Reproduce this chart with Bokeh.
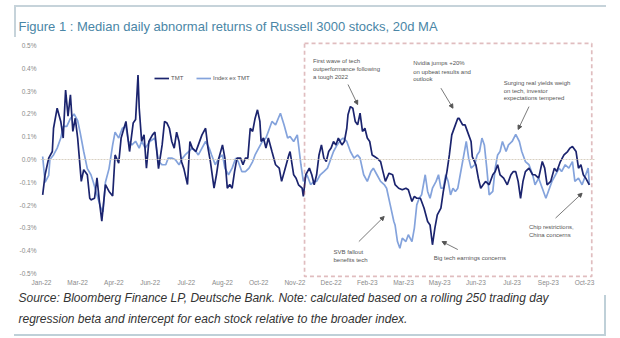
from bokeh.plotting import figure
from bokeh.models import (Range1d, FixedTicker, PrintfTickFormatter, Span, BoxAnnotation,
                          Arrow, NormalHead, Legend, LegendItem, Title, InlineStyleSheet)
from bokeh.core.properties import value
from bokeh.embed import file_html
from bokeh.resources import INLINE

# ---------------- data ----------------
title_text = "Figure 1 : Median daily abnormal returns of Russell 3000 stocks, 20d MA"
source_lines = [
    "Source: Bloomberg Finance LP, Deutsche Bank. Note: calculated based on a rolling 250 trading day",
    "regression beta and intercept for each stock relative to the broader index.",
]
tick_labels = ["Jan-22", "Mar-22", "Apr-22", "Jun-22", "Jul-22", "Aug-22", "Oct-22", "Nov-22",
               "Dec-22", "Feb-23", "Mar-23", "May-23", "Jun-23", "Jul-23", "Sep-23", "Oct-23"]
tick_days = [0, 30, 60, 90, 120, 150, 180, 210, 240, 270, 300, 330, 360, 390, 420, 450]
y_ticks = [-0.5, -0.4, -0.3, -0.2, -0.1, 0.0, 0.1, 0.2, 0.3, 0.4, 0.5]

# TMT (trading-day index, % value)
tmt_day = [1, 3, 6, 9, 10, 13, 16, 18, 20, 22,
           24, 26, 28, 30, 33, 35, 38, 40, 41, 44,
           46, 48, 50, 53, 56, 59, 61, 64, 66, 70,
           73, 76, 78, 80, 81, 83, 85, 87, 89, 92,
           94, 97, 100, 102, 104, 106, 108, 110, 112, 114,
           116, 118, 121, 123, 125, 128, 130, 133, 136, 138,
           140, 143, 145, 147, 150, 152, 154, 156, 158, 160,
           162, 165, 167, 169, 171, 173, 175, 177, 179, 181,
           182, 184, 186, 188, 191, 194, 197, 199, 202, 205,
           206, 209, 211, 213, 216, 217, 219, 222, 224, 226,
           228, 230, 232, 234, 236, 238, 240, 242, 244, 246,
           249, 251, 253, 254, 256, 258, 260, 262, 264, 266,
           268, 270, 272, 274, 276, 278, 281, 283, 285, 288,
           291, 293, 296, 299, 302, 304, 307, 309, 311, 314,
           317, 320, 322, 324, 326, 328, 331, 333, 336, 338,
           340, 343, 345, 346, 349, 351, 354, 356, 357, 360,
           362, 364, 366, 368, 371, 374, 376, 378, 380, 383,
           386, 389, 391, 393, 395, 397, 399, 401, 404, 407,
           409, 412, 415, 417, 419, 422, 425, 427, 430, 433,
           436, 438, 440, 443, 445, 447, 449, 451, 454]
tmt = [-0.155, -0.067, 0.006, 0.035, 0.137, 0.225, 0.167, 0.094, 0.305, 0.19,
       0.284, 0.123, 0.181, 0.094, -0.096, -0.045, -0.067, -0.17, -0.177, -0.17,
       -0.08, -0.184, -0.27, -0.11, -0.14, -0.16, 0.02, -0.016, 0.094, 0.167,
       0.035, 0.16, 0.175, 0.37, 0.225, 0.08, 0.108, -0.038, 0.079, 0.108,
       0.12, -0.04, 0.064, 0.167, 0.16, 0.137, 0.079, 0.05, 0.12, 0.079,
       -0.009, -0.04, -0.11, 0.079, 0.05, 0.035, 0.064, 0.108, 0.137, 0.05,
       -0.009, -0.126, -0.067, 0.006, 0.064, 0.006, -0.126, -0.11, -0.126, -0.053,
       0.006, 0.006, -0.023, 0.006, 0.006, 0.137, 0.123, 0.18, 0.218, 0.167,
       0.079, 0.094, 0.05, 0.094, 0.035, -0.023, -0.038, -0.096, -0.038, 0.02,
       0.035, -0.067, -0.082, -0.111, -0.126, -0.162, -0.067, -0.038, -0.067, -0.111,
       -0.067, 0.02, 0.064, 0.006, -0.009, 0.035, 0.05, 0.079, 0.064, 0.094,
       0.064, 0.079, 0.137, 0.196, 0.232, 0.225, 0.167, 0.152, 0.203, 0.123,
       0.137, 0.094, 0.079, 0.02, 0.013, 0.006, -0.009, -0.053, -0.096, -0.06,
       -0.067, -0.11, -0.126, -0.133, -0.126, -0.133, -0.184, -0.162, -0.17, -0.17,
       -0.213, -0.272, -0.287, -0.374, -0.301, -0.243, -0.213, -0.14, -0.053, 0.02,
       0.108, 0.152, 0.181, 0.181, 0.152, 0.152, 0.108, 0.079, 0.013, -0.023,
       -0.082, -0.126, -0.111, -0.096, -0.111, -0.067, -0.053, -0.023, -0.067, -0.082,
       -0.111, -0.067, -0.053, -0.053, -0.096, -0.17, -0.096, -0.053, -0.038, -0.067,
       -0.067, -0.082, -0.009, -0.038, -0.111, -0.096, -0.038, -0.053, -0.009, 0.02,
       0.035, 0.05, 0.057, 0.035, -0.038, -0.023, -0.067, -0.082, -0.111]

# Index ex TMT
idx_day = [1, 3, 6, 7, 10, 13, 16, 18, 21, 24,
           27, 30, 32, 35, 38, 41, 43, 46, 49, 51,
           53, 56, 59, 61, 64, 67, 70, 72, 75, 78,
           81, 83, 86, 90, 94, 97, 100, 103, 105, 108,
           111, 114, 117, 119, 122, 125, 128, 130, 133, 136,
           139, 141, 144, 147, 150, 152, 155, 158, 161, 163,
           166, 169, 172, 175, 177, 180, 183, 186, 188, 191,
           194, 198, 201, 204, 206, 209, 212, 215, 217, 220,
           223, 226, 228, 231, 234, 237, 239, 242, 245, 248,
           250, 253, 256, 259, 262, 264, 267, 270, 273, 275,
           278, 281, 284, 286, 289, 292, 293, 295, 297, 299,
           302, 304, 307, 309, 311, 313, 315, 318, 320, 322,
           324, 327, 329, 331, 333, 335, 337, 339, 341, 343,
           345, 347, 350, 352, 354, 356, 359, 361, 363, 365,
           367, 369, 371, 374, 376, 378, 380, 382, 385, 387,
           390, 393, 396, 398, 401, 404, 407, 409, 412, 415,
           418, 420, 423, 426, 429, 431, 434, 437, 440, 442,
           445, 448, 451, 453, 454]
idx = [0.013, -0.1, -0.07, 0.0, 0.02, 0.05, 0.094, 0.145, 0.145, 0.18,
       0.2, 0.17, 0.12, 0.035, -0.04, -0.067, -0.1, -0.155, -0.21, -0.23,
       -0.1, -0.04, 0.064, 0.12, 0.094, 0.137, 0.145, 0.08, 0.064, 0.08,
       0.05, 0.08, 0.05, 0.08, 0.094, -0.009, -0.023, -0.023, 0.006, 0.006,
       -0.001, -0.023, 0.006, 0.02, 0.035, 0.05, 0.035, 0.02, 0.05, 0.079,
       0.05, 0.02, -0.023, 0.006, 0.02, -0.038, -0.067, -0.038, 0.006, -0.009,
       -0.053, -0.053, -0.038, -0.009, 0.02, 0.05, 0.079, 0.094, 0.123, 0.167,
       0.152, 0.203, 0.152, 0.094, 0.101, 0.079, 0.108, -0.023, -0.096, -0.067,
       -0.11, -0.096, -0.096, -0.067, -0.053, -0.038, -0.009, 0.035, 0.064, 0.086,
       0.094, 0.079, 0.035, 0.006, 0.02, 0.006, -0.067, -0.096, -0.053, -0.038,
       -0.067, -0.096, -0.11, -0.126, -0.199, -0.272, -0.287, -0.36, -0.389, -0.345,
       -0.36, -0.33, -0.36, -0.301, -0.199, -0.17, -0.155, -0.067, -0.14, -0.17,
       -0.126, -0.096, -0.067, -0.126, -0.126, -0.067, -0.096, -0.155, -0.126, -0.14,
       -0.126, -0.067, 0.02, 0.079, 0.006, -0.038, -0.023, 0.02, 0.035, 0.094,
       0.064, -0.038, -0.155, -0.14, -0.038, 0.02, 0.035, 0.079, 0.035, 0.064,
       0.079, 0.11, 0.079, 0.035, -0.009, -0.023, -0.067, -0.111, -0.082, -0.126,
       -0.17, -0.14, -0.096, -0.067, -0.038, -0.053, -0.023, -0.038, -0.009, -0.096,
       -0.082, -0.111, -0.067, -0.038, -0.111]

assert len(tmt_day) == len(tmt)
assert len(idx_day) == len(idx)

# annotations (text lines with anchor day / value) and arrows
note_text = ["First wave of tech", "outperformance following", "a tough 2022",
             "Nvidia jumps +20%", "on upbeat results and", "outlook",
             "Surging real yields weigh", "on tech, investor", "expectations tempered",
             "SVB fallout", "benefits tech",
             "Big tech earnings concerns",
             "Chip restrictions,", "China concerns"]
note_day = [225, 225, 225, 308, 308, 308, 383, 383, 383, 242, 242, 325, 404, 404]
note_val = [0.430, 0.395, 0.360, 0.422, 0.386, 0.352, 0.335, 0.301, 0.268,
            -0.404, -0.439, -0.433, -0.298, -0.330]
arrow_x0 = [254, 331, 404, 263, 345, 426]
arrow_y0 = [0.329, 0.313, 0.232, -0.36, -0.395, -0.257]
arrow_x1 = [262, 341, 395, 284, 332, 448]
arrow_y1 = [0.241, 0.225, 0.132, -0.25, -0.36, -0.148]

# highlighted period box (trading days / %)
box_days = [218, 456]
box_vals = [-0.513, 0.509]

# ---------------- figure ----------------
W, H = 620, 338
p = figure(width=W, height=H, output_backend="svg", toolbar_location=None,
           x_range=Range1d(-0.8, 459.1), y_range=Range1d(-0.522, 0.522),
           min_border_left=40, min_border_right=25, min_border_top=40, min_border_bottom=60)
p.outline_line_color = None
p.xgrid.grid_line_color = None
p.ygrid.grid_line_color = None
p.background_fill_color = "white"
p.border_fill_color = "white"

for ax in (p.xaxis[0], p.yaxis[0]):
    ax.axis_line_color = None
    ax.major_tick_line_color = None
    ax.minor_tick_line_color = None
    ax.major_tick_out = 0
    ax.major_tick_in = 0
    ax.minor_tick_out = 0
    ax.minor_tick_in = 0
    ax.major_label_text_font = "Liberation Sans"
    ax.major_label_text_font_size = "6.5px"
    ax.major_label_text_color = "#8a8a8a"

p.xaxis.ticker = FixedTicker(ticks=tick_days)
p.xaxis.major_label_overrides = {d: l for d, l in zip(tick_days, tick_labels)}
p.xaxis.major_label_standoff = 0
p.yaxis.ticker = FixedTicker(ticks=y_ticks)
p.yaxis.formatter = PrintfTickFormatter(format="%.1f%%")
p.yaxis.major_label_standoff = 4

p.add_layout(Span(location=0, dimension="width", line_color="#d8d0c2", line_width=1,
                  line_dash="2 1"))

r_idx = p.line(idx_day, idx, line_color="#84a3dc", line_width=1.7)
r_tmt = p.line(tmt_day, tmt, line_color="#1b246e", line_width=1.7)

p.add_layout(BoxAnnotation(left=box_days[0], right=box_days[1], bottom=box_vals[0], top=box_vals[1],
                           fill_alpha=0, line_color="#98232c", line_width=1.7, line_dash="4 3"))

legend = Legend(items=[LegendItem(label="TMT", renderers=[r_tmt]),
                       LegendItem(label="Index ex TMT", renderers=[r_idx])],
                location=(114, 196), orientation="horizontal",
                label_text_font="Liberation Sans", label_text_font_size="6px",
                label_text_color="#555555", glyph_width=15, glyph_height=8,
                label_standoff=2, spacing=5, padding=0, margin=0,
                background_fill_alpha=0, border_line_alpha=0, label_height=8)
p.add_layout(legend)

p.text(x=note_day, y=note_val, text=note_text, text_font=value("Liberation Sans"),
       text_font_size=value("6px"), text_color="#555555", text_baseline="middle", text_align="left")

for xs, ys, xe, ye in zip(arrow_x0, arrow_y0, arrow_x1, arrow_y1):
    p.add_layout(Arrow(x_start=xs, y_start=ys, x_end=xe, y_end=ye, line_color="#6a6a6a",
                       line_width=0.9,
                       end=NormalHead(size=4, fill_color="#555555", line_color="#555555")))

# title and source note
p.title.text = title_text
p.title.align = "left"
p.title.offset = -22
p.title.standoff = 14
p.title.text_font = "Liberation Sans"
p.title.text_font_size = "13px"
p.title.text_font_style = "normal"
p.title.text_color = "#4a86a6"

for i, line in enumerate(source_lines):
    p.add_layout(Title(text=line, align="left", offset=-22,
                       standoff=5 if i == 0 else 0,
                       vertical_align="top" if i == 0 else "bottom",
                       text_font="Liberation Sans", text_font_size="12px",
                       text_font_style="italic", text_color="#333333"), "below")

# thin frame lines around the title and the source note
p.stylesheets = [InlineStyleSheet(css="""
:host { position: relative; }
:host::before { content: ''; position: absolute; left: 14px; top: 5px; width: 590px; height: 30px;
  border-top: 2px solid #c6d3da; border-left: 2px solid #c6d3da; pointer-events: none; z-index: 5; }
:host::after { content: ''; position: absolute; left: 14px; top: 295px; width: 590px; height: 39px;
  border-bottom: 2px solid #bfd0d8; border-right: 2px solid #bfd0d8; pointer-events: none; z-index: 5; }
""")]

open("out.html", "w").write(file_html(p, INLINE))
